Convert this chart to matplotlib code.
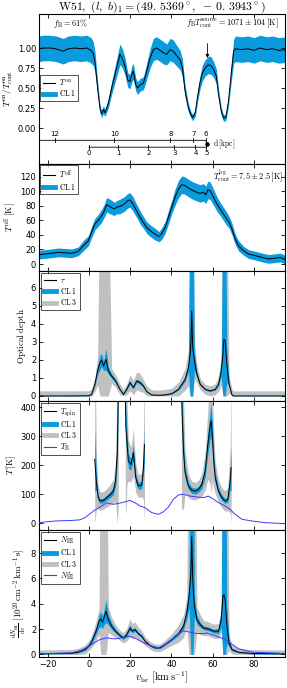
import matplotlib
matplotlib.use('Agg')
import matplotlib.pyplot as plt
from matplotlib.lines import Line2D
import numpy as np

# Estilo general (ticks hacia dentro, fuentes tipo LaTeX)
plt.rcParams['mathtext.fontset'] = 'cm'
plt.rcParams['font.family'] = 'DejaVu Sans'
plt.rcParams['xtick.direction'] = 'in'
plt.rcParams['ytick.direction'] = 'in'
plt.rcParams['xtick.top'] = True
plt.rcParams['ytick.right'] = True
plt.rcParams['xtick.major.size'] = 3
plt.rcParams['ytick.major.size'] = 3
plt.rcParams['xtick.labelsize'] = 6
plt.rcParams['ytick.labelsize'] = 6
plt.rcParams['axes.linewidth'] = 0.8

BLUE = '#0a9ade'
GRAY = '#c0c0c0'
TB_BLUE = '#3b3bff'

# DATOS

# Panel 1: T_on / T_cont
v_on = [-24.6, -22, -19, -16, -12.5, -10, -7, -4, -1, 1, 2.1, 2.9, 4.2, 5.3, 6.1, 7.0, 7.8, 8.6, 9.4, 11.0,
        13.4, 15.0, 16.2, 17.5, 18.8, 19.9, 20.7, 21.5, 22.7, 23.6, 24.8, 26.4, 28.0, 29.6, 31.2, 32.8,
        34.5, 36.1, 37.7, 39.3, 40.9, 42.6, 44.2, 45.3, 46.6, 48.2, 49.5, 50.3, 51.5, 52.8, 53.9, 55.0,
        56.3, 57.9, 59.2, 60.4, 61.7, 62.8, 64.1, 65.2, 66.3, 67.6, 68.9, 70.1, 71, 74, 77, 80, 83, 86,
        89, 92, 95.5]
t_on = [0.99, 1.0, 1.0, 0.99, 0.96, 0.99, 1.0, 0.99, 1.0, 0.97, 0.93, 0.83, 0.5, 0.25, 0.175, 0.23, 0.19,
        0.25, 0.31, 0.5, 0.75, 0.92, 0.87, 0.77, 0.6, 0.58, 0.67, 0.71, 0.54, 0.5, 0.54, 0.56, 0.71, 0.87,
        0.98, 1.0, 0.97, 0.94, 0.92, 0.98, 0.96, 0.9, 0.85, 0.75, 0.46, 0.25, 0.16, 0.13, 0.19, 0.42, 0.58,
        0.69, 0.75, 0.79, 0.78, 0.73, 0.65, 0.42, 0.21, 0.125, 0.13, 0.33, 0.67, 0.96, 0.99, 0.98, 0.99,
        0.97, 1.0, 0.98, 0.99, 0.97, 0.98]
t_on_err = [0.16, 0.16, 0.16, 0.16, 0.16, 0.16, 0.16, 0.16, 0.16, 0.16, 0.15, 0.13, 0.08, 0.05, 0.045,
            0.05, 0.045, 0.05, 0.055, 0.08, 0.11, 0.13, 0.12, 0.11, 0.09, 0.09, 0.1, 0.1, 0.08, 0.08, 0.08,
            0.08, 0.1, 0.12, 0.14, 0.14, 0.14, 0.14, 0.13, 0.14, 0.14, 0.13, 0.12, 0.11, 0.07, 0.05, 0.04,
            0.04, 0.045, 0.065, 0.085, 0.1, 0.1, 0.11, 0.11, 0.1, 0.09, 0.065, 0.045, 0.04, 0.04, 0.06, 0.1,
            0.15, 0.16, 0.16, 0.16, 0.16, 0.16, 0.16, 0.16, 0.16, 0.16]

# Escala de distancias (kpc) y su velocidad asociada
dist_far_kpc = [12, 10, 8, 7, 6]
dist_far_vel = [-16.4, 12.3, 39.5, 50.6, 56.5]
dist_near_kpc = [0, 1, 2, 3, 4, 5]
dist_near_vel = [0.0, 14.2, 28.8, 41.4, 51.6, 56.9]
tangent_vel = 57.4

# Panel 2: T_off
v_off = [-24.6, -18.1, -14.9, -8.4, -5.2, -2.8, -0.3, 1.3, 2.9, 4.5, 6.1, 7.4, 8.6, 10.2, 12.3, 13.4, 15.0,
         17.2, 18.8, 19.9, 21.2, 23.1, 24.8, 26.4, 28.0, 29.6, 32.0, 34.0, 35.3, 36.9, 38.5, 40.1, 41.7,
         43.4, 45.0, 46.6, 48.2, 49.8, 52.3, 53.9, 55.5, 56.6, 57.6, 58.7, 60.4, 62.0, 63.6, 65.2, 66.8,
         68.0, 69.3, 70.9, 72.5, 74.9, 77.3, 80.6, 83.8, 87.1, 90.3, 92.7, 95.1]
t_off = [12.8, 14.7, 16, 14.7, 17.4, 25, 32, 44, 55, 60, 66, 73, 81.5, 79, 75.6, 78, 79, 82.5, 87, 88, 83,
         73, 64, 57, 50, 46, 41, 37.6, 42, 50, 64, 78, 91.6, 103, 109, 107.7, 104.4, 101.7, 98.5, 97, 98.5,
         95, 101.7, 100.8, 91.6, 82.5, 75.6, 68.7, 61.8, 57, 48, 34, 25, 18.3, 13.7, 11.5, 9, 7, 8, 9, 6]
t_off_err = [6, 6, 6, 6, 6, 7, 7, 8, 8, 8, 9, 9, 10, 10, 9, 9, 10, 10, 10, 10, 10, 9, 9, 8, 8, 8, 8, 7, 8,
             8, 9, 9, 11, 12, 12, 12, 12, 12, 12, 12, 12, 12, 12, 12, 11, 10, 9, 9, 9, 8, 8, 7, 7, 6, 6, 6,
             6, 6, 6, 6, 6]

# Panel 3: profundidad optica
v_tau = [-24.6, -10, 0, 1.3, 2.9, 4.2, 5.3, 6.1, 7.1, 8.3, 9.4, 11.0, 12.9, 15.0, 16.7, 18.3, 19.9, 21.5,
         23.1, 24.8, 26.4, 28.0, 30.4, 33.7, 36.9, 40.1, 43.4, 46.6, 48.2, 49.0, 49.5, 49.8, 50.3, 51.1,
         52.3, 53.9, 56.3, 58.7, 61.2, 62.8, 64.1, 64.9, 65.4, 66.0, 66.8, 67.9, 69.3, 70.1, 80, 95.1]
tau = [0.0, 0.0, 0.01, 0.09, 0.65, 1.4, 1.85, 1.98, 1.66, 2.03, 1.4, 1.1, 0.83, 0.37, 0.09, 0.37, 0.74,
       0.46, 0.83, 0.74, 0.55, 0.24, 0.06, 0.04, 0.06, 0.13, 0.37, 0.92, 1.57, 2.3, 3.2, 4.7, 2.68, 1.94,
       1.2, 0.65, 0.37, 0.28, 0.37, 0.65, 1.4, 2.3, 3.14, 3.05, 1.75, 0.65, 0.06, 0.0, 0.0, 0.0]
tau_cl1 = [0.02, 0.02, 0.02, 0.03, 0.08, 0.2, 0.4, 0.35, 0.25, 0.6, 0.2, 0.12, 0.1, 0.05, 0.03, 0.05, 0.1,
           0.07, 0.1, 0.1, 0.07, 0.04, 0.02, 0.02, 0.02, 0.03, 0.05, 0.12, 0.25, 10, 10, 10, 10, 0.5,
           0.15, 0.07, 0.05, 0.04, 0.05, 0.08, 0.3, 10, 10, 10, 1.0, 0.08, 0.02, 0.02, 0.02, 0.02]
tau_cl3 = [0.28, 0.28, 0.28, 0.3, 0.4, 0.8, 10, 10, 10, 10, 10, 0.4, 0.35, 0.3, 0.28, 0.3, 0.45, 0.4, 0.5,
           0.5, 0.35, 0.3, 0.28, 0.28, 0.3, 0.3, 0.4, 0.6, 1.0, 10, 10, 10, 10, 1.0, 0.5, 0.3, 0.28, 0.28,
           0.3, 0.4, 0.8, 10, 10, 10, 10, 0.5, 0.3, 0.28, 0.28, 0.28]

# Panel 4: T_spin (tres tramos) y T_B
v_spin = [[2.8, 3.7, 4.5, 5.3, 7.0, 8.6, 10.2, 11.8, 12.9, 13.75, 14.2],
          [17.6, 17.9, 18.4, 19.1, 20.4, 21.5, 22.7, 23.9, 25.6, 26.4, 26.9],
          [44.8, 45.8, 46.6, 48.2, 49.8, 51.5, 53.1, 54.7, 56.3, 57.6, 58.7, 59.2, 59.8, 60.4, 61.2, 62.8,
           64.4, 66.0, 67.3, 68.4, 68.9]]
t_spin = [[221, 134, 88.5, 77, 79, 88.5, 98, 111, 146, 249, 450],
          [450, 330, 284, 215, 203, 244, 157, 129, 132, 192, 272],
          [450, 249, 175, 129, 114, 111, 117, 134, 180, 272, 336, 355, 300, 221, 157, 111, 88.5, 77, 83,
           146, 192]]
t_spin_cl1 = [[110, 20, 10, 8, 8, 9, 10, 12, 18, 40, 60],
              [100, 60, 40, 25, 20, 25, 15, 12, 12, 25, 60],
              [100, 40, 20, 12, 10, 10, 10, 14, 20, 35, 50, 60, 45, 30, 18, 12, 10, 8, 10, 30, 80]]
t_spin_cl3 = [[400, 80, 40, 32, 30, 32, 35, 40, 70, 300, 400],
              [400, 300, 150, 70, 60, 80, 50, 40, 40, 110, 300],
              [400, 200, 70, 40, 32, 30, 32, 40, 65, 120, 200, 250, 150, 100, 55, 38, 35, 35, 40, 110, 300]]

v_tb = [-24.6, -16.5, -8.4, -4.4, -1.9, 0.5, 2.9, 5.3, 8.6, 11.8, 15.9, 19.9, 22.3, 24.8, 27.2, 30.4, 33.7,
        36.1, 38.5, 40.9, 43.4, 45.8, 49.0, 52.3, 55.5, 57.9, 60.4, 62.8, 66.0, 68.4, 70.9, 74.1, 79.0,
        85.4, 95.1]
t_b = [2.3, 8, 10, 12, 20, 33, 46, 56, 71, 65.5, 71, 79, 71, 60, 54, 37, 31, 40, 56, 83, 98, 100, 94, 91,
       88.5, 94, 83, 71, 60, 48, 31, 14, 8, 2.3, -1]

# Panel 5: densidad de columna
v_nhi = [-24.6, -8.4, -5.2, -1.9, 0.5, 2.1, 3.7, 4.9, 5.7, 6.6, 7.4, 8.3, 9.4, 11.0, 12.9, 15.0, 16.7, 18.3,
         19.9, 21.0, 22.3, 23.9, 25.6, 27.2, 29.6, 32.0, 34.5, 36.9, 40.1, 43.4, 45.8, 47.4, 48.5, 49.4,
         49.8, 50.3, 51.1, 52.3, 53.9, 55.5, 57.9, 60.4, 62.8, 64.1, 64.9, 65.4, 66.0, 66.8, 67.9, 69.3,
         72.5, 79.0, 95.1]
n_hi = [0.05, 0.1, 0.18, 0.39, 0.79, 1.31, 1.97, 2.62, 2.8, 2.54, 2.96, 3.41, 2.75, 2.23, 1.84, 1.5, 1.31,
        1.57, 2.1, 1.84, 1.97, 1.65, 1.44, 1.05, 0.71, 0.52, 0.52, 0.79, 1.18, 1.65, 2.23, 3.28, 4.59, 6.43,
        9.3, 5.9, 3.8, 2.75, 2.36, 2.1, 2.02, 1.84, 1.84, 2.75, 4.59, 4.72, 4.33, 2.36, 0.92, 0.39, 0.18,
        0.08, 0.05]
n_hi_cl1 = [0.03, 0.04, 0.05, 0.08, 0.12, 0.2, 0.3, 0.5, 0.6, 0.5, 0.6, 0.9, 0.4, 0.25, 0.15, 0.12, 0.12,
            0.15, 0.2, 0.15, 0.15, 0.12, 0.1, 0.08, 0.06, 0.05, 0.05, 0.07, 0.1, 0.15, 0.25, 0.5, 1.0, 20,
            20, 20, 0.8, 0.35, 0.2, 0.15, 0.15, 0.15, 0.2, 0.6, 20, 20, 20, 1.5, 0.3, 0.1, 0.05, 0.04, 0.03]
n_hi_cl3 = [0.3, 0.3, 0.3, 0.35, 0.4, 0.6, 0.8, 1.0, 20, 20, 20, 20, 1.0, 0.7, 0.5, 0.4, 0.4, 0.5, 0.7, 0.6,
            0.6, 0.5, 0.45, 0.35, 0.3, 0.3, 0.3, 0.35, 0.45, 0.7, 0.9, 1.2, 20, 20, 20, 20, 20, 1.0, 0.8,
            0.6, 0.55, 0.55, 0.6, 1.0, 20, 20, 20, 20, 0.6, 0.35, 0.3, 0.3, 0.3]

v_nstar = [-24.6, -8.4, -3.6, 1.3, 5.3, 8.6, 12.6, 15.9, 19.9, 23.1, 26.4, 30.4, 33.7, 36.9, 40.1, 43.4,
           45.8, 49.0, 52.3, 55.5, 57.1, 59.5, 62.8, 66.0, 68.4, 72.5, 79.0, 95.1]
n_star = [0.05, 0.13, 0.34, 0.79, 1.18, 1.31, 1.23, 1.31, 1.44, 1.23, 0.92, 0.66, 0.52, 0.79, 1.18, 1.65,
          1.86, 1.76, 1.65, 1.65, 1.7, 1.57, 1.39, 1.18, 0.92, 0.45, 0.18, 0.08]


# FUNCIONES AUXILIARES

def band(ax, x, y, err, color, floor=None):
    # Dibuja una banda de confianza alrededor de la curva
    y = np.array(y, dtype=float)
    err = np.array(err, dtype=float)
    low = y - err
    if floor is not None:
        low = np.maximum(low, floor)
    ax.fill_between(x, low, y + err, color=color, lw=0, zorder=1)


def legend(ax, handles, labels, **kw):
    # Leyenda con marco negro y esquinas rectas
    leg = ax.legend(handles, labels, fontsize=5.5, handlelength=1.6, borderpad=0.35,
                    labelspacing=0.15, handletextpad=0.5, fancybox=False, **kw)
    leg.get_frame().set_edgecolor('k')
    leg.get_frame().set_linewidth(0.6)
    return leg


h_line = Line2D([], [], color='k', lw=0.8)
h_cl1 = Line2D([], [], color=BLUE, lw=3.5)
h_cl3 = Line2D([], [], color=GRAY, lw=3.5)
h_tb = Line2D([], [], color=TB_BLUE, lw=0.8)

XLIM = (-24.2, 95.0)

# FIGURA
fig = plt.figure(figsize=(2.87, 6.88), dpi=100)
left, width = 39 / 287, 246 / 287
rows = [(14, 164), (164, 271), (271, 401), (401, 530), (530, 657)]
axes = []
for top, bot in rows:
    ax = fig.add_axes([left, 1 - bot / 688, width, (bot - top) / 688])
    ax.set_xlim(*XLIM)
    ax.set_xticks([-20, 0, 20, 40, 60, 80])
    ax.tick_params(width=0.6, pad=2)
    axes.append(ax)
ax1, ax2, ax3, ax4, ax5 = axes
for ax in axes[:-1]:
    ax.tick_params(labelbottom=False)

# Titulo
fig.text(left + width / 2, 1 - 7.5 / 688,
         r'$\mathrm{W51},\ (l,\ b)_1 = (49.\,5369^\circ,\ -\,0.\,3943^\circ)$',
         fontsize=8.5, ha='center', va='center')

# Panel 1
band(ax1, v_on, t_on, t_on_err, BLUE)
ax1.plot(v_on, t_on, color='k', lw=0.7, zorder=3)
ax1.set_ylim(-0.45, 1.425)
ax1.set_yticks([0, 0.25, 0.5, 0.75, 1.0])
ax1.set_yticklabels(['0.00', '0.25', '0.50', '0.75', '1.00'])
ax1.set_ylabel(r'$T^{\rm on}/T^{\rm on}_{\rm cont}$', fontsize=6.5, labelpad=2)
ax1.text(0.057, 0.935, r'$f_{\rm B} = 61\%$', transform=ax1.transAxes, fontsize=6, va='center')
ax1.text(0.975, 0.935, r'$f_{\rm B}T^{\rm source}_{\rm cont} = 1071 \pm 104\,[\rm K]$',
         transform=ax1.transAxes, fontsize=6, va='center', ha='right')
ax1.annotate('', xy=(tangent_vel, 0.84), xytext=(tangent_vel, 1.09),
             arrowprops=dict(arrowstyle='-|>', color='k', lw=0.6, mutation_scale=5))
legend(ax1, [h_line, h_cl1], [r'$T^{\rm on}$', r'$\rm CL\,1$'],
       loc='lower left', bbox_to_anchor=(0.005, 0.42), borderaxespad=0)

# Escala de distancias
y_far, y_near, y_tan = -0.154, -0.24, -0.2
ax1.plot([XLIM[0], dist_far_vel[-1], tangent_vel], [y_far, y_far, y_tan], color='k', lw=0.6)
ax1.plot([dist_near_vel[0], dist_near_vel[-1], tangent_vel], [y_near, y_near, y_tan], color='k', lw=0.6)
for d, v in zip(dist_far_kpc, dist_far_vel):
    ax1.plot([v, v], [y_far - 0.025, y_far + 0.025], color='k', lw=0.6)
    ax1.text(v, y_far + 0.04, str(d), fontsize=5, ha='center', va='bottom')
for d, v in zip(dist_near_kpc, dist_near_vel):
    ax1.plot([v, v], [y_near - 0.025, y_near + 0.025], color='k', lw=0.6)
    ax1.text(v, y_near - 0.04, str(d), fontsize=5, ha='center', va='top')
ax1.plot([tangent_vel], [y_tan], 'o', color='k', ms=2.2)
ax1.text(tangent_vel + 2.5, y_tan, r'$\rm d\,[kpc]$', fontsize=5.5, va='center')

# Panel 2
band(ax2, v_off, t_off, t_off_err, BLUE)
ax2.plot(v_off, t_off, color='k', lw=0.7, zorder=3)
ax2.set_ylim(-9.6, 137.4)
ax2.set_yticks([0, 20, 40, 60, 80, 100, 120])
ax2.set_ylabel(r'$T^{\rm off}\ [\rm K]$', fontsize=6.5, labelpad=2)
ax2.text(0.99, 0.89, r'$T^{\rm bg}_{\rm cont} = 7.5 \pm 2.5\,[\rm K]$', transform=ax2.transAxes,
         fontsize=6, ha='right', va='center')
legend(ax2, [h_line, h_cl1], [r'$T^{\rm off}$', r'$\rm CL\,1$'], loc='upper left', borderaxespad=0.15)

# Panel 3
band(ax3, v_tau, tau, tau_cl3, GRAY, floor=0)
band(ax3, v_tau, tau, tau_cl1, BLUE, floor=0)
ax3.plot(v_tau, tau, color='k', lw=0.7, zorder=3)
ax3.set_ylim(-0.28, 6.92)
ax3.set_yticks([0, 1, 2, 3, 4, 5, 6])
ax3.set_ylabel(r'$\rm Optical\ depth$', fontsize=6.5, labelpad=2)
legend(ax3, [h_line, h_cl1, h_cl3], [r'$\tau$', r'$\rm CL\,1$', r'$\rm CL\,3$'],
       loc='upper left', borderaxespad=0.3)

# Panel 4
for vs, ts, e3 in zip(v_spin, t_spin, t_spin_cl3):
    band(ax4, vs, ts, e3, GRAY, floor=0)
for vs, ts, e1 in zip(v_spin, t_spin, t_spin_cl1):
    band(ax4, vs, ts, e1, BLUE, floor=0)
for vs, ts in zip(v_spin, t_spin):
    ax4.plot(vs, ts, color='k', lw=0.7, zorder=3)
ax4.plot(v_tb, t_b, color=TB_BLUE, lw=0.7, zorder=4)
ax4.set_ylim(-23, 422)
ax4.set_yticks([0, 100, 200, 300, 400])
ax4.set_ylabel(r'$T\,[\rm K]$', fontsize=6.5, labelpad=2)
legend(ax4, [h_line, h_cl1, h_cl3, h_tb],
       [r'$T_{\rm spin}$', r'$\rm CL\,1$', r'$\rm CL\,3$', r'$T_{\rm B}$'],
       loc='upper left', borderaxespad=0.3)

# Panel 5
band(ax5, v_nhi, n_hi, n_hi_cl3, GRAY, floor=0)
band(ax5, v_nhi, n_hi, n_hi_cl1, BLUE, floor=0)
ax5.plot(v_nhi, n_hi, color='k', lw=0.7, zorder=3)
ax5.plot(v_nstar, n_star, color=TB_BLUE, lw=0.7, zorder=4)
ax5.set_ylim(-0.2, 9.83)
ax5.set_yticks([0, 2, 4, 6, 8])
ax5.set_ylabel(r'$\frac{{\rm d}N_{\rm HI}}{{\rm d}v}\ [10^{20}\,{\rm cm}^{-2}\,{\rm km}^{-1}\,{\rm s}]$',
               fontsize=6.5, labelpad=2)
ax5.set_xlabel(r'$v_{\rm lsr}\ [\rm km\,s^{-1}]$', fontsize=7.5, labelpad=1)
legend(ax5, [h_line, h_cl1, h_cl3, h_tb],
       [r'$N_{\rm HI}$', r'$\rm CL\,1$', r'$\rm CL\,3$', r'$N^{*}_{\rm HI}$'],
       loc='upper left', borderaxespad=0.3)

fig.savefig('out.png', dpi=100)
